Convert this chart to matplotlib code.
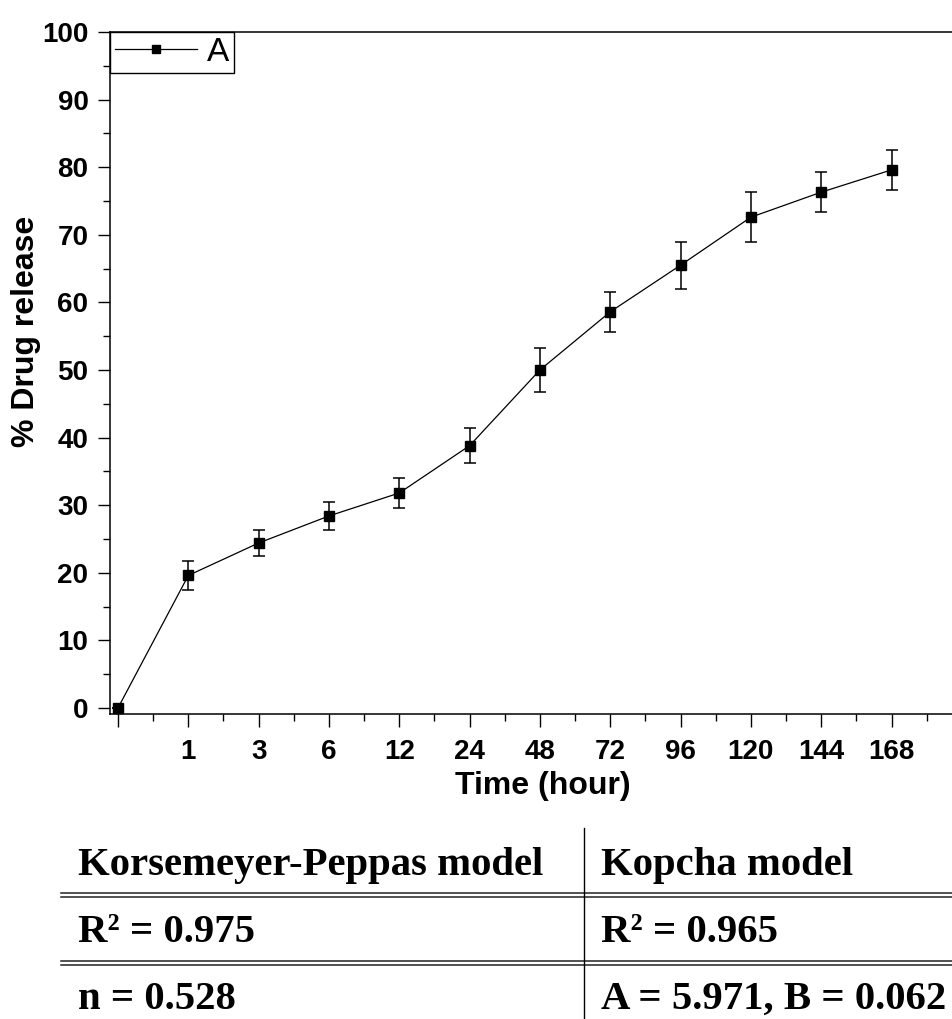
import matplotlib
matplotlib.use("Agg")
from matplotlib import pyplot as plt
from matplotlib.lines import Line2D
from matplotlib.ticker import MultipleLocator

# data
time_labels = ["", "1", "3", "6", "12", "24", "48", "72", "96", "120", "144", "168"]
release = [0.0, 19.6, 24.4, 28.4, 31.8, 38.8, 50.0, 58.6, 65.5, 72.6, 76.3, 79.6]
release_err = [0.0, 2.1, 1.9, 2.1, 2.2, 2.6, 3.3, 3.0, 3.5, 3.7, 3.0, 3.0]

table_header = ["Korsemeyer-Peppas model", "Kopcha model"]
table_rows = [["R\u00b2 = 0.975", "R\u00b2 = 0.965"],
              ["n = 0.528", "A = 5.971, B = 0.062"]]

W, H = 952, 1019
def fx(px):
    return px / W
def fy(py):
    return 1 - py / H

plt.rcParams["font.family"] = ["Liberation Sans", "DejaVu Sans"]

fig = plt.figure(figsize=(W / 100, H / 100), dpi=100)
ax = fig.add_axes([fx(110), fy(714), fx(952) - fx(110), fy(32) - fy(714)])

xs = list(range(len(release)))
ax.errorbar(xs, release, yerr=release_err, color="black", lw=0.9,
            marker="s", ms=6.5, elinewidth=1.1, capsize=4, capthick=1.1)

ax.set_xlim(-0.114, 11.86)
ax.set_ylim(-0.9, 100)
ax.set_xticks(xs)
ax.set_xticklabels(time_labels)
ax.xaxis.set_minor_locator(MultipleLocator(0.5))
ax.yaxis.set_major_locator(MultipleLocator(10))
ax.yaxis.set_minor_locator(MultipleLocator(5))
ax.tick_params(which="major", direction="out", length=9, width=1.0,
               labelsize=20, pad=6.5)
ax.tick_params(which="minor", direction="out", length=4.7, width=1.0)
ax.tick_params(axis="x", which="major", pad=9)
for lab in ax.get_xticklabels() + ax.get_yticklabels():
    lab.set_fontweight("bold")

for side in ["left", "bottom", "top"]:
    ax.spines[side].set_linewidth(1.1)
ax.spines["right"].set_visible(False)

# legend shows line + marker only
handle = Line2D([], [], color="black", lw=0.9, marker="s", ms=5.5)
leg = ax.legend([handle], ["A"], loc="upper left", borderaxespad=0,
                fancybox=False, edgecolor="black", fontsize=24,
                handlelength=2.45, handletextpad=0.3, borderpad=0.15,
                framealpha=1)
leg.get_frame().set_linewidth(1.0)

fig.text(fx(26), fy(331), "% Drug release", rotation=90, ha="center",
         va="center", fontsize=23, fontweight="bold")
fig.text(fx(543), fy(786), "Time (hour)", ha="center", va="center",
         fontsize=23, fontweight="bold")

# table below the chart
serif = ["Liberation Serif", "DejaVu Serif"]
col_x = [78, 601]
base_y = [875, 942, 1009]
for i, txt in enumerate(table_header):
    fig.text(fx(col_x[i]), fy(base_y[0]), txt, ha="left", va="baseline",
             fontsize=29.3, fontweight="bold", family=serif)
for r, row in enumerate(table_rows):
    for i, txt in enumerate(row):
        fig.text(fx(col_x[i]), fy(base_y[r + 1]), txt, ha="left",
                 va="baseline", fontsize=29.3, fontweight="bold",
                 family=serif)

for y0 in [893, 897, 961, 965]:
    fig.add_artist(Line2D([fx(61), fx(952)], [fy(y0), fy(y0)],
                          transform=fig.transFigure, color="#222222", lw=1.1))
fig.add_artist(Line2D([fx(584), fx(584)], [fy(828), fy(1019)],
                      transform=fig.transFigure, color="black", lw=1.0))

fig.savefig("out.png", dpi=100)
